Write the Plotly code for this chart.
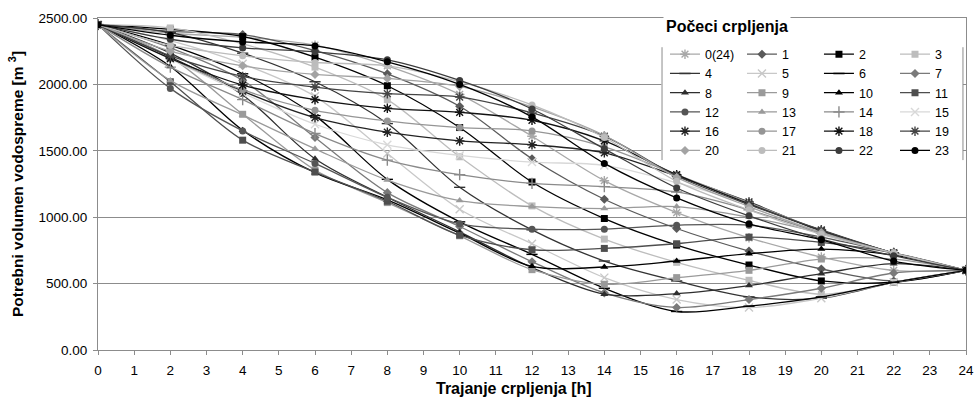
import plotly.graph_objects as go

# Trajanje crpljenja [h]
durations = [0, 2, 4, 6, 8, 10, 12, 14, 16, 18, 20, 22, 24]

# Potrebni volumen vodospreme [m3] for each pumping start hour
v0 = [2450, 2385, 2355, 2295, 2140, 1925, 1610, 1275, 1035, 845, 700, 600, 600]
v1 = [2450, 2400, 2375, 2255, 2080, 1835, 1440, 1135, 915, 745, 610, 520, 600]
v2 = [2450, 2415, 2360, 2205, 1990, 1675, 1265, 990, 790, 640, 520, 510, 600]
v3 = [2450, 2425, 2305, 2130, 1885, 1455, 1085, 835, 660, 525, 420, 510, 600]
v4 = [2450, 2390, 2235, 2020, 1705, 1225, 905, 670, 520, 400, 390, 510, 600]
v5 = [2450, 2330, 2155, 1910, 1480, 1060, 800, 545, 380, 320, 390, 510, 600]
v6 = [2450, 2295, 2080, 1765, 1285, 965, 720, 465, 290, 330, 400, 510, 600]
v7 = [2450, 2275, 2030, 1600, 1185, 930, 665, 430, 320, 380, 465, 580, 600]
v8 = [2450, 2235, 1920, 1440, 1150, 890, 620, 420, 425, 485, 575, 650, 600]
v9 = [2450, 2205, 1775, 1355, 1110, 860, 605, 495, 545, 600, 685, 685, 600]
v10 = [2450, 2135, 1655, 1335, 1130, 880, 630, 625, 670, 725, 760, 715, 600]
v11 = [2450, 2020, 1580, 1340, 1120, 865, 755, 765, 800, 850, 810, 730, 600]
v12 = [2450, 1970, 1650, 1405, 1150, 950, 910, 910, 940, 940, 850, 730, 600]
v13 = [2450, 2030, 1770, 1515, 1280, 1125, 1080, 1065, 1080, 1000, 880, 730, 600]
v14 = [2450, 2130, 1885, 1630, 1430, 1320, 1255, 1230, 1190, 1055, 880, 730, 600]
v15 = [2450, 2190, 1935, 1700, 1545, 1465, 1415, 1390, 1260, 1095, 885, 730, 600]
v16 = [2450, 2205, 1950, 1750, 1640, 1575, 1545, 1485, 1310, 1115, 895, 730, 600]
v17 = [2450, 2195, 1960, 1805, 1725, 1675, 1650, 1530, 1320, 1110, 900, 730, 600]
v18 = [2450, 2195, 1995, 1885, 1820, 1790, 1730, 1575, 1320, 1100, 900, 730, 600]
v19 = [2450, 2215, 2060, 1980, 1930, 1905, 1785, 1610, 1310, 1095, 905, 730, 600]
v20 = [2450, 2250, 2140, 2075, 2045, 1985, 1830, 1615, 1300, 1080, 885, 730, 600]
v21 = [2450, 2295, 2215, 2165, 2140, 2020, 1845, 1600, 1270, 1055, 870, 730, 600]
v22 = [2450, 2340, 2275, 2245, 2185, 2030, 1815, 1515, 1220, 1010, 835, 710, 600]
v23 = [2450, 2370, 2320, 2290, 2170, 2000, 1755, 1405, 1145, 950, 830, 670, 600]

series_names = ["0(24)", "1", "2", "3", "4", "5", "6", "7", "8", "9", "10", "11",
                "12", "13", "14", "15", "16", "17", "18", "19", "20", "21", "22", "23"]
series_values = [v0, v1, v2, v3, v4, v5, v6, v7, v8, v9, v10, v11,
                 v12, v13, v14, v15, v16, v17, v18, v19, v20, v21, v22, v23]

legend_title = "Počeci crpljenja"
x_title = "Trajanje crpljenja [h]"
y_title = "Potrebni volumen vodospreme [m <sup>3</sup>]"

# styles (colour, marker symbol)
styles = [
    ("#a8a8a8", "asterisk-open"), ("#5a5a5a", "diamond"), ("#000000", "square"), ("#bdbdbd", "square"),
    ("#333333", "line-ew-open"), ("#c8c8c8", "x-thin-open"), ("#000000", "line-ew-open"), ("#7a7a7a", "diamond"),
    ("#2e2e2e", "triangle-up"), ("#9a9a9a", "square"), ("#000000", "triangle-up"), ("#4e4e4e", "square"),
    ("#555555", "circle"), ("#9a9a9a", "triangle-up"), ("#8a8a8a", "cross-thin-open"), ("#d8d8d8", "x-thin-open"),
    ("#222222", "asterisk-open"), ("#959595", "circle"), ("#111111", "asterisk-open"), ("#444444", "asterisk-open"),
    ("#a3a3a3", "diamond"), ("#bcbcbc", "circle"), ("#3c3c3c", "circle"), ("#000000", "circle"),
]

FONT = "Arial, Liberation Sans, sans-serif"
legend_ids = ["legend", "legend2", "legend3", "legend4"]

fig = go.Figure()
for i, (name, vals, (col, sym)) in enumerate(zip(series_names, series_values, styles)):
    open_sym = sym.endswith("-open")
    fig.add_trace(go.Scatter(
        x=durations, y=vals, name=name, mode="lines+markers",
        legend=legend_ids[i % 4],
        line=dict(color=col, width=1.3, shape="spline", smoothing=0.9),
        marker=dict(symbol=sym, size=7 if not open_sym else 8, color=col,
                    line=dict(color=col, width=1.4 if open_sym else 0)),
    ))

# white box behind the legend and its side lines
fig.add_shape(type="rect", xref="paper", yref="paper", x0=0.649, x1=0.9965, y0=0.57, y1=0.985,
              fillcolor="white", line=dict(width=0), layer="above")
fig.add_shape(type="line", xref="paper", yref="paper", x0=0.6498, x1=0.6498, y0=0.572, y1=0.912,
              line=dict(color="#8c8c8c", width=1), layer="above")
fig.add_shape(type="line", xref="paper", yref="paper", x0=0.9965, x1=0.9965, y0=0.572, y1=0.912,
              line=dict(color="#8c8c8c", width=1), layer="above")

fig.add_annotation(text=legend_title, xref="paper", yref="paper", x=0.651, y=0.973,
                   xanchor="left", yanchor="middle", showarrow=False, bgcolor="white",
                   borderpad=2, font=dict(family=FONT, size=16, color="#000000", weight="bold"))

# x-axis title (placed as in the reference, slightly left of centre)
fig.add_annotation(text=x_title, xref="paper", yref="paper", x=0.479, y=-0.1145,
                   xanchor="center", yanchor="middle", showarrow=False,
                   font=dict(family=FONT, size=16, color="#000000", weight="bold"))

legend_common = dict(orientation="v", xanchor="left", yanchor="top", bgcolor="rgba(0,0,0,0)",
                     borderwidth=0, font=dict(family=FONT, size=12.5, color="#000000"),
                     itemwidth=30, tracegroupgap=0)
legend_x = [0.6532, 0.7419, 0.8306, 0.9182]
legend_y = 0.935

fig.update_layout(
    width=977, height=407,
    margin=dict(l=98, r=11, t=18, b=57, autoexpand=False),
    paper_bgcolor="white", plot_bgcolor="white",
    font=dict(family=FONT, size=13, color="#000000"),
    showlegend=True,
    legend=dict(x=legend_x[0], y=legend_y, **legend_common),
    legend2=dict(x=legend_x[1], y=legend_y, **legend_common),
    legend3=dict(x=legend_x[2], y=legend_y, **legend_common),
    legend4=dict(x=legend_x[3], y=legend_y, **legend_common),
    xaxis=dict(
        range=[0, 24], dtick=1, tick0=0, showgrid=False, zeroline=False, automargin=False,
        showline=True, linecolor="#8c8c8c", linewidth=1, mirror=True,
        ticks="outside", ticklen=4, tickcolor="#8c8c8c", ticklabelstandoff=4,
        tickfont=dict(family=FONT, size=13.5),
    ),
    yaxis=dict(
        range=[0, 2500], dtick=500, tick0=0, tickformat=".2f", automargin=False,
        showgrid=True, gridcolor="#8c8c8c", gridwidth=1, zeroline=False,
        showline=True, linecolor="#8c8c8c", linewidth=1, mirror=True,
        ticks="outside", ticklen=4, tickcolor="#8c8c8c", ticklabelstandoff=3,
        tickfont=dict(family=FONT, size=13.5),
        title=dict(text=y_title, font=dict(family=FONT, size=15.5, weight="bold"), standoff=11),
    ),
)

fig.write_html(
    "out.html",
    config={"displayModeBar": False},
    post_script="document.body.style.margin='0';document.body.style.overflow='hidden';",
)
